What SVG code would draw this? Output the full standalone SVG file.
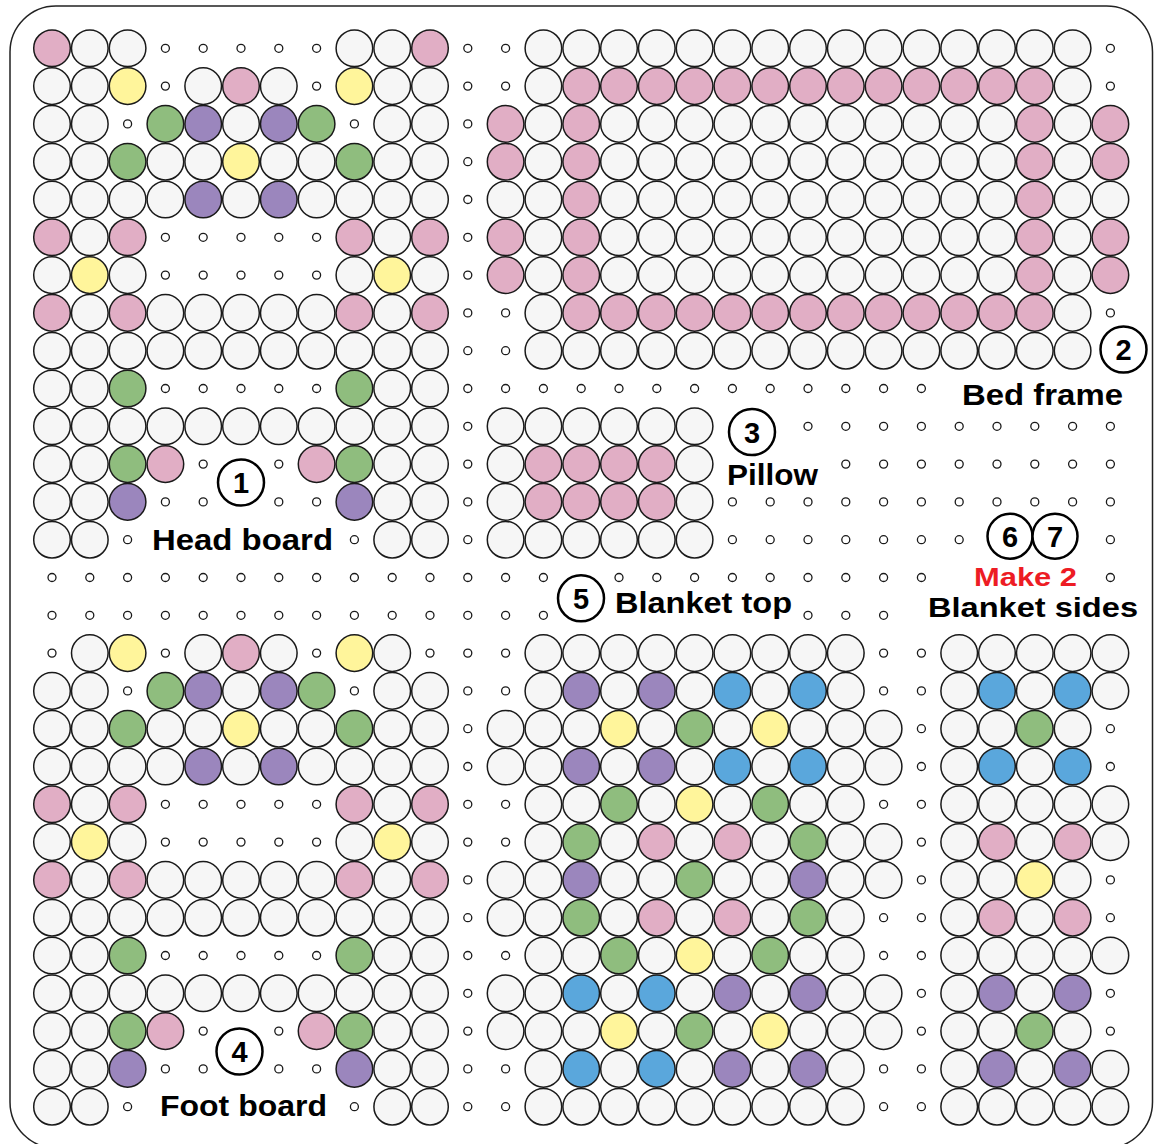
<svg xmlns="http://www.w3.org/2000/svg" xmlns:xlink="http://www.w3.org/1999/xlink" width="1162" height="1144" viewBox="0 0 1162 1144">
<style>
.bd{stroke:#1a1a1a;stroke-width:1.5}
.pg{fill:#fff;stroke:#1a1a1a;stroke-width:1.3}
.lc{fill:#fff;stroke:#000;stroke-width:2.5}
.num{font-family:"Liberation Sans",Arial,sans-serif;font-weight:bold;font-size:29px;fill:#000;text-anchor:middle}
.lbl{font-family:"Liberation Sans",Arial,sans-serif;font-weight:bold;font-size:29px;fill:#000}
.red{font-family:"Liberation Sans",Arial,sans-serif;font-weight:bold;font-size:26px;fill:#ed1c24}
</style>
<defs>
<circle id="w" class="bd" r="18.3" fill="#f6f6f6"/>
<circle id="p" class="bd" r="18.3" fill="#e1aec5"/>
<circle id="y" class="bd" r="18.3" fill="#fff59b"/>
<circle id="g" class="bd" r="18.3" fill="#8fbd7e"/>
<circle id="u" class="bd" r="18.3" fill="#9b86bd"/>
<circle id="b" class="bd" r="18.3" fill="#5aa7dc"/>
<circle id="o" class="pg" r="4"/>
</defs>
<rect x="0" y="0" width="1162" height="1144" fill="#fff"/>
<rect x="10" y="6" width="1142.5" height="1142" rx="46" fill="none" stroke="#222" stroke-width="1.5"/>

<g id="pegs">
<g transform="translate(0 48.3)"><use href="#o" x="165.4"/><use href="#o" x="203.2"/><use href="#o" x="241"/><use href="#o" x="278.8"/><use href="#o" x="316.6"/><use href="#o" x="467.8"/><use href="#o" x="505.6"/><use href="#o" x="1110.4"/></g>
<g transform="translate(0 86.1)"><use href="#o" x="165.4"/><use href="#o" x="316.6"/><use href="#o" x="467.8"/><use href="#o" x="505.6"/><use href="#o" x="1110.4"/></g>
<g transform="translate(0 123.9)"><use href="#o" x="127.6"/><use href="#o" x="354.4"/><use href="#o" x="467.8"/></g>
<g transform="translate(0 161.7)"><use href="#o" x="467.8"/></g>
<g transform="translate(0 199.5)"><use href="#o" x="467.8"/></g>
<g transform="translate(0 237.3)"><use href="#o" x="165.4"/><use href="#o" x="203.2"/><use href="#o" x="241"/><use href="#o" x="278.8"/><use href="#o" x="316.6"/><use href="#o" x="467.8"/></g>
<g transform="translate(0 275.1)"><use href="#o" x="165.4"/><use href="#o" x="203.2"/><use href="#o" x="241"/><use href="#o" x="278.8"/><use href="#o" x="316.6"/><use href="#o" x="467.8"/></g>
<g transform="translate(0 312.9)"><use href="#o" x="467.8"/><use href="#o" x="505.6"/><use href="#o" x="1110.4"/></g>
<g transform="translate(0 350.7)"><use href="#o" x="467.8"/><use href="#o" x="505.6"/></g>
<g transform="translate(0 388.5)"><use href="#o" x="165.4"/><use href="#o" x="203.2"/><use href="#o" x="241"/><use href="#o" x="278.8"/><use href="#o" x="316.6"/><use href="#o" x="467.8"/><use href="#o" x="505.6"/><use href="#o" x="543.4"/><use href="#o" x="581.2"/><use href="#o" x="619"/><use href="#o" x="656.8"/><use href="#o" x="694.6"/><use href="#o" x="732.4"/><use href="#o" x="770.2"/><use href="#o" x="808"/><use href="#o" x="845.8"/><use href="#o" x="883.6"/><use href="#o" x="921.4"/></g>
<g transform="translate(0 426.3)"><use href="#o" x="467.8"/><use href="#o" x="808"/><use href="#o" x="845.8"/><use href="#o" x="883.6"/><use href="#o" x="921.4"/><use href="#o" x="959.2"/><use href="#o" x="997"/><use href="#o" x="1034.8"/><use href="#o" x="1072.6"/><use href="#o" x="1110.4"/></g>
<g transform="translate(0 464.1)"><use href="#o" x="203.2"/><use href="#o" x="278.8"/><use href="#o" x="467.8"/><use href="#o" x="845.8"/><use href="#o" x="883.6"/><use href="#o" x="921.4"/><use href="#o" x="959.2"/><use href="#o" x="997"/><use href="#o" x="1034.8"/><use href="#o" x="1072.6"/><use href="#o" x="1110.4"/></g>
<g transform="translate(0 501.9)"><use href="#o" x="165.4"/><use href="#o" x="203.2"/><use href="#o" x="278.8"/><use href="#o" x="316.6"/><use href="#o" x="467.8"/><use href="#o" x="732.4"/><use href="#o" x="770.2"/><use href="#o" x="808"/><use href="#o" x="845.8"/><use href="#o" x="883.6"/><use href="#o" x="921.4"/><use href="#o" x="959.2"/><use href="#o" x="997"/><use href="#o" x="1034.8"/><use href="#o" x="1072.6"/><use href="#o" x="1110.4"/></g>
<g transform="translate(0 539.7)"><use href="#o" x="127.6"/><use href="#o" x="354.4"/><use href="#o" x="467.8"/><use href="#o" x="732.4"/><use href="#o" x="770.2"/><use href="#o" x="808"/><use href="#o" x="845.8"/><use href="#o" x="883.6"/><use href="#o" x="921.4"/><use href="#o" x="959.2"/><use href="#o" x="1110.4"/></g>
<g transform="translate(0 577.5)"><use href="#o" x="52"/><use href="#o" x="89.8"/><use href="#o" x="127.6"/><use href="#o" x="165.4"/><use href="#o" x="203.2"/><use href="#o" x="241"/><use href="#o" x="278.8"/><use href="#o" x="316.6"/><use href="#o" x="354.4"/><use href="#o" x="392.2"/><use href="#o" x="430"/><use href="#o" x="467.8"/><use href="#o" x="505.6"/><use href="#o" x="543.4"/><use href="#o" x="619"/><use href="#o" x="656.8"/><use href="#o" x="694.6"/><use href="#o" x="732.4"/><use href="#o" x="770.2"/><use href="#o" x="808"/><use href="#o" x="845.8"/><use href="#o" x="883.6"/><use href="#o" x="921.4"/><use href="#o" x="1110.4"/></g>
<g transform="translate(0 615.3)"><use href="#o" x="52"/><use href="#o" x="89.8"/><use href="#o" x="127.6"/><use href="#o" x="165.4"/><use href="#o" x="203.2"/><use href="#o" x="241"/><use href="#o" x="278.8"/><use href="#o" x="316.6"/><use href="#o" x="354.4"/><use href="#o" x="392.2"/><use href="#o" x="430"/><use href="#o" x="467.8"/><use href="#o" x="505.6"/><use href="#o" x="543.4"/><use href="#o" x="808"/><use href="#o" x="845.8"/><use href="#o" x="883.6"/></g>
<g transform="translate(0 653.1)"><use href="#o" x="52"/><use href="#o" x="165.4"/><use href="#o" x="316.6"/><use href="#o" x="430"/><use href="#o" x="467.8"/><use href="#o" x="505.6"/><use href="#o" x="883.6"/><use href="#o" x="921.4"/></g>
<g transform="translate(0 690.9)"><use href="#o" x="127.6"/><use href="#o" x="354.4"/><use href="#o" x="467.8"/><use href="#o" x="505.6"/><use href="#o" x="883.6"/><use href="#o" x="921.4"/></g>
<g transform="translate(0 728.7)"><use href="#o" x="467.8"/><use href="#o" x="921.4"/><use href="#o" x="1110.4"/></g>
<g transform="translate(0 766.5)"><use href="#o" x="467.8"/><use href="#o" x="921.4"/><use href="#o" x="1110.4"/></g>
<g transform="translate(0 804.3)"><use href="#o" x="165.4"/><use href="#o" x="203.2"/><use href="#o" x="241"/><use href="#o" x="278.8"/><use href="#o" x="316.6"/><use href="#o" x="467.8"/><use href="#o" x="505.6"/><use href="#o" x="883.6"/><use href="#o" x="921.4"/></g>
<g transform="translate(0 842.1)"><use href="#o" x="165.4"/><use href="#o" x="203.2"/><use href="#o" x="241"/><use href="#o" x="278.8"/><use href="#o" x="316.6"/><use href="#o" x="467.8"/><use href="#o" x="505.6"/><use href="#o" x="921.4"/></g>
<g transform="translate(0 879.9)"><use href="#o" x="467.8"/><use href="#o" x="921.4"/><use href="#o" x="1110.4"/></g>
<g transform="translate(0 917.7)"><use href="#o" x="467.8"/><use href="#o" x="883.6"/><use href="#o" x="921.4"/><use href="#o" x="1110.4"/></g>
<g transform="translate(0 955.5)"><use href="#o" x="165.4"/><use href="#o" x="203.2"/><use href="#o" x="241"/><use href="#o" x="278.8"/><use href="#o" x="316.6"/><use href="#o" x="467.8"/><use href="#o" x="505.6"/><use href="#o" x="883.6"/><use href="#o" x="921.4"/></g>
<g transform="translate(0 993.3)"><use href="#o" x="467.8"/><use href="#o" x="921.4"/><use href="#o" x="1110.4"/></g>
<g transform="translate(0 1031.1)"><use href="#o" x="203.2"/><use href="#o" x="278.8"/><use href="#o" x="467.8"/><use href="#o" x="921.4"/><use href="#o" x="1110.4"/></g>
<g transform="translate(0 1068.9)"><use href="#o" x="165.4"/><use href="#o" x="203.2"/><use href="#o" x="278.8"/><use href="#o" x="316.6"/><use href="#o" x="467.8"/><use href="#o" x="505.6"/><use href="#o" x="883.6"/><use href="#o" x="921.4"/></g>
<g transform="translate(0 1106.7)"><use href="#o" x="127.6"/><use href="#o" x="354.4"/><use href="#o" x="467.8"/><use href="#o" x="505.6"/><use href="#o" x="883.6"/><use href="#o" x="921.4"/></g>
</g>

<g id="head-board">
<g transform="translate(0 48.3)"><use href="#p" x="52"/><use href="#w" x="89.8"/><use href="#w" x="127.6"/><use href="#w" x="354.4"/><use href="#w" x="392.2"/><use href="#p" x="430"/></g>
<g transform="translate(0 86.1)"><use href="#w" x="52"/><use href="#w" x="89.8"/><use href="#y" x="127.6"/><use href="#w" x="203.2"/><use href="#p" x="241"/><use href="#w" x="278.8"/><use href="#y" x="354.4"/><use href="#w" x="392.2"/><use href="#w" x="430"/></g>
<g transform="translate(0 123.9)"><use href="#w" x="52"/><use href="#w" x="89.8"/><use href="#g" x="165.4"/><use href="#u" x="203.2"/><use href="#w" x="241"/><use href="#u" x="278.8"/><use href="#g" x="316.6"/><use href="#w" x="392.2"/><use href="#w" x="430"/></g>
<g transform="translate(0 161.7)"><use href="#w" x="52"/><use href="#w" x="89.8"/><use href="#g" x="127.6"/><use href="#w" x="165.4"/><use href="#w" x="203.2"/><use href="#y" x="241"/><use href="#w" x="278.8"/><use href="#w" x="316.6"/><use href="#g" x="354.4"/><use href="#w" x="392.2"/><use href="#w" x="430"/></g>
<g transform="translate(0 199.5)"><use href="#w" x="52"/><use href="#w" x="89.8"/><use href="#w" x="127.6"/><use href="#w" x="165.4"/><use href="#u" x="203.2"/><use href="#w" x="241"/><use href="#u" x="278.8"/><use href="#w" x="316.6"/><use href="#w" x="354.4"/><use href="#w" x="392.2"/><use href="#w" x="430"/></g>
<g transform="translate(0 237.3)"><use href="#p" x="52"/><use href="#w" x="89.8"/><use href="#p" x="127.6"/><use href="#p" x="354.4"/><use href="#w" x="392.2"/><use href="#p" x="430"/></g>
<g transform="translate(0 275.1)"><use href="#w" x="52"/><use href="#y" x="89.8"/><use href="#w" x="127.6"/><use href="#w" x="354.4"/><use href="#y" x="392.2"/><use href="#w" x="430"/></g>
<g transform="translate(0 312.9)"><use href="#p" x="52"/><use href="#w" x="89.8"/><use href="#p" x="127.6"/><use href="#w" x="165.4"/><use href="#w" x="203.2"/><use href="#w" x="241"/><use href="#w" x="278.8"/><use href="#w" x="316.6"/><use href="#p" x="354.4"/><use href="#w" x="392.2"/><use href="#p" x="430"/></g>
<g transform="translate(0 350.7)"><use href="#w" x="52"/><use href="#w" x="89.8"/><use href="#w" x="127.6"/><use href="#w" x="165.4"/><use href="#w" x="203.2"/><use href="#w" x="241"/><use href="#w" x="278.8"/><use href="#w" x="316.6"/><use href="#w" x="354.4"/><use href="#w" x="392.2"/><use href="#w" x="430"/></g>
<g transform="translate(0 388.5)"><use href="#w" x="52"/><use href="#w" x="89.8"/><use href="#g" x="127.6"/><use href="#g" x="354.4"/><use href="#w" x="392.2"/><use href="#w" x="430"/></g>
<g transform="translate(0 426.3)"><use href="#w" x="52"/><use href="#w" x="89.8"/><use href="#w" x="127.6"/><use href="#w" x="165.4"/><use href="#w" x="203.2"/><use href="#w" x="241"/><use href="#w" x="278.8"/><use href="#w" x="316.6"/><use href="#w" x="354.4"/><use href="#w" x="392.2"/><use href="#w" x="430"/></g>
<g transform="translate(0 464.1)"><use href="#w" x="52"/><use href="#w" x="89.8"/><use href="#g" x="127.6"/><use href="#p" x="165.4"/><use href="#p" x="316.6"/><use href="#g" x="354.4"/><use href="#w" x="392.2"/><use href="#w" x="430"/></g>
<g transform="translate(0 501.9)"><use href="#w" x="52"/><use href="#w" x="89.8"/><use href="#u" x="127.6"/><use href="#u" x="354.4"/><use href="#w" x="392.2"/><use href="#w" x="430"/></g>
<g transform="translate(0 539.7)"><use href="#w" x="52"/><use href="#w" x="89.8"/><use href="#w" x="392.2"/><use href="#w" x="430"/></g>
<circle class="lc" cx="241" cy="482.5" r="23"/>
<text class="num" x="241" y="493">1</text>
<text class="lbl" x="152" y="550" textLength="181" lengthAdjust="spacingAndGlyphs">Head board</text>
</g>

<g id="bed-frame">
<g transform="translate(0 48.3)"><use href="#w" x="543.4"/><use href="#w" x="581.2"/><use href="#w" x="619"/><use href="#w" x="656.8"/><use href="#w" x="694.6"/><use href="#w" x="732.4"/><use href="#w" x="770.2"/><use href="#w" x="808"/><use href="#w" x="845.8"/><use href="#w" x="883.6"/><use href="#w" x="921.4"/><use href="#w" x="959.2"/><use href="#w" x="997"/><use href="#w" x="1034.8"/><use href="#w" x="1072.6"/></g>
<g transform="translate(0 86.1)"><use href="#w" x="543.4"/><use href="#p" x="581.2"/><use href="#p" x="619"/><use href="#p" x="656.8"/><use href="#p" x="694.6"/><use href="#p" x="732.4"/><use href="#p" x="770.2"/><use href="#p" x="808"/><use href="#p" x="845.8"/><use href="#p" x="883.6"/><use href="#p" x="921.4"/><use href="#p" x="959.2"/><use href="#p" x="997"/><use href="#p" x="1034.8"/><use href="#w" x="1072.6"/></g>
<g transform="translate(0 123.9)"><use href="#p" x="505.6"/><use href="#w" x="543.4"/><use href="#p" x="581.2"/><use href="#w" x="619"/><use href="#w" x="656.8"/><use href="#w" x="694.6"/><use href="#w" x="732.4"/><use href="#w" x="770.2"/><use href="#w" x="808"/><use href="#w" x="845.8"/><use href="#w" x="883.6"/><use href="#w" x="921.4"/><use href="#w" x="959.2"/><use href="#w" x="997"/><use href="#p" x="1034.8"/><use href="#w" x="1072.6"/><use href="#p" x="1110.4"/></g>
<g transform="translate(0 161.7)"><use href="#p" x="505.6"/><use href="#w" x="543.4"/><use href="#p" x="581.2"/><use href="#w" x="619"/><use href="#w" x="656.8"/><use href="#w" x="694.6"/><use href="#w" x="732.4"/><use href="#w" x="770.2"/><use href="#w" x="808"/><use href="#w" x="845.8"/><use href="#w" x="883.6"/><use href="#w" x="921.4"/><use href="#w" x="959.2"/><use href="#w" x="997"/><use href="#p" x="1034.8"/><use href="#w" x="1072.6"/><use href="#p" x="1110.4"/></g>
<g transform="translate(0 199.5)"><use href="#w" x="505.6"/><use href="#w" x="543.4"/><use href="#p" x="581.2"/><use href="#w" x="619"/><use href="#w" x="656.8"/><use href="#w" x="694.6"/><use href="#w" x="732.4"/><use href="#w" x="770.2"/><use href="#w" x="808"/><use href="#w" x="845.8"/><use href="#w" x="883.6"/><use href="#w" x="921.4"/><use href="#w" x="959.2"/><use href="#w" x="997"/><use href="#p" x="1034.8"/><use href="#w" x="1072.6"/><use href="#w" x="1110.4"/></g>
<g transform="translate(0 237.3)"><use href="#p" x="505.6"/><use href="#w" x="543.4"/><use href="#p" x="581.2"/><use href="#w" x="619"/><use href="#w" x="656.8"/><use href="#w" x="694.6"/><use href="#w" x="732.4"/><use href="#w" x="770.2"/><use href="#w" x="808"/><use href="#w" x="845.8"/><use href="#w" x="883.6"/><use href="#w" x="921.4"/><use href="#w" x="959.2"/><use href="#w" x="997"/><use href="#p" x="1034.8"/><use href="#w" x="1072.6"/><use href="#p" x="1110.4"/></g>
<g transform="translate(0 275.1)"><use href="#p" x="505.6"/><use href="#w" x="543.4"/><use href="#p" x="581.2"/><use href="#w" x="619"/><use href="#w" x="656.8"/><use href="#w" x="694.6"/><use href="#w" x="732.4"/><use href="#w" x="770.2"/><use href="#w" x="808"/><use href="#w" x="845.8"/><use href="#w" x="883.6"/><use href="#w" x="921.4"/><use href="#w" x="959.2"/><use href="#w" x="997"/><use href="#p" x="1034.8"/><use href="#w" x="1072.6"/><use href="#p" x="1110.4"/></g>
<g transform="translate(0 312.9)"><use href="#w" x="543.4"/><use href="#p" x="581.2"/><use href="#p" x="619"/><use href="#p" x="656.8"/><use href="#p" x="694.6"/><use href="#p" x="732.4"/><use href="#p" x="770.2"/><use href="#p" x="808"/><use href="#p" x="845.8"/><use href="#p" x="883.6"/><use href="#p" x="921.4"/><use href="#p" x="959.2"/><use href="#p" x="997"/><use href="#p" x="1034.8"/><use href="#w" x="1072.6"/></g>
<g transform="translate(0 350.7)"><use href="#w" x="543.4"/><use href="#w" x="581.2"/><use href="#w" x="619"/><use href="#w" x="656.8"/><use href="#w" x="694.6"/><use href="#w" x="732.4"/><use href="#w" x="770.2"/><use href="#w" x="808"/><use href="#w" x="845.8"/><use href="#w" x="883.6"/><use href="#w" x="921.4"/><use href="#w" x="959.2"/><use href="#w" x="997"/><use href="#w" x="1034.8"/><use href="#w" x="1072.6"/></g>
<circle class="lc" cx="1123.5" cy="349.5" r="23"/>
<text class="num" x="1123.5" y="360">2</text>
<text class="lbl" x="962" y="405" textLength="161" lengthAdjust="spacingAndGlyphs">Bed frame</text>
</g>

<g id="pillow">
<g transform="translate(0 426.3)"><use href="#w" x="505.6"/><use href="#w" x="543.4"/><use href="#w" x="581.2"/><use href="#w" x="619"/><use href="#w" x="656.8"/><use href="#w" x="694.6"/></g>
<g transform="translate(0 464.1)"><use href="#w" x="505.6"/><use href="#p" x="543.4"/><use href="#p" x="581.2"/><use href="#p" x="619"/><use href="#p" x="656.8"/><use href="#w" x="694.6"/></g>
<g transform="translate(0 501.9)"><use href="#w" x="505.6"/><use href="#p" x="543.4"/><use href="#p" x="581.2"/><use href="#p" x="619"/><use href="#p" x="656.8"/><use href="#w" x="694.6"/></g>
<g transform="translate(0 539.7)"><use href="#w" x="505.6"/><use href="#w" x="543.4"/><use href="#w" x="581.2"/><use href="#w" x="619"/><use href="#w" x="656.8"/><use href="#w" x="694.6"/></g>
<circle class="lc" cx="752" cy="432" r="23"/>
<text class="num" x="752" y="442.5">3</text>
<text class="lbl" x="727" y="485" textLength="91" lengthAdjust="spacingAndGlyphs">Pillow</text>
</g>

<g id="foot-board">
<g transform="translate(0 653.1)"><use href="#w" x="89.8"/><use href="#y" x="127.6"/><use href="#w" x="203.2"/><use href="#p" x="241"/><use href="#w" x="278.8"/><use href="#y" x="354.4"/><use href="#w" x="392.2"/></g>
<g transform="translate(0 690.9)"><use href="#w" x="52"/><use href="#w" x="89.8"/><use href="#g" x="165.4"/><use href="#u" x="203.2"/><use href="#w" x="241"/><use href="#u" x="278.8"/><use href="#g" x="316.6"/><use href="#w" x="392.2"/><use href="#w" x="430"/></g>
<g transform="translate(0 728.7)"><use href="#w" x="52"/><use href="#w" x="89.8"/><use href="#g" x="127.6"/><use href="#w" x="165.4"/><use href="#w" x="203.2"/><use href="#y" x="241"/><use href="#w" x="278.8"/><use href="#w" x="316.6"/><use href="#g" x="354.4"/><use href="#w" x="392.2"/><use href="#w" x="430"/></g>
<g transform="translate(0 766.5)"><use href="#w" x="52"/><use href="#w" x="89.8"/><use href="#w" x="127.6"/><use href="#w" x="165.4"/><use href="#u" x="203.2"/><use href="#w" x="241"/><use href="#u" x="278.8"/><use href="#w" x="316.6"/><use href="#w" x="354.4"/><use href="#w" x="392.2"/><use href="#w" x="430"/></g>
<g transform="translate(0 804.3)"><use href="#p" x="52"/><use href="#w" x="89.8"/><use href="#p" x="127.6"/><use href="#p" x="354.4"/><use href="#w" x="392.2"/><use href="#p" x="430"/></g>
<g transform="translate(0 842.1)"><use href="#w" x="52"/><use href="#y" x="89.8"/><use href="#w" x="127.6"/><use href="#w" x="354.4"/><use href="#y" x="392.2"/><use href="#w" x="430"/></g>
<g transform="translate(0 879.9)"><use href="#p" x="52"/><use href="#w" x="89.8"/><use href="#p" x="127.6"/><use href="#w" x="165.4"/><use href="#w" x="203.2"/><use href="#w" x="241"/><use href="#w" x="278.8"/><use href="#w" x="316.6"/><use href="#p" x="354.4"/><use href="#w" x="392.2"/><use href="#p" x="430"/></g>
<g transform="translate(0 917.7)"><use href="#w" x="52"/><use href="#w" x="89.8"/><use href="#w" x="127.6"/><use href="#w" x="165.4"/><use href="#w" x="203.2"/><use href="#w" x="241"/><use href="#w" x="278.8"/><use href="#w" x="316.6"/><use href="#w" x="354.4"/><use href="#w" x="392.2"/><use href="#w" x="430"/></g>
<g transform="translate(0 955.5)"><use href="#w" x="52"/><use href="#w" x="89.8"/><use href="#g" x="127.6"/><use href="#g" x="354.4"/><use href="#w" x="392.2"/><use href="#w" x="430"/></g>
<g transform="translate(0 993.3)"><use href="#w" x="52"/><use href="#w" x="89.8"/><use href="#w" x="127.6"/><use href="#w" x="165.4"/><use href="#w" x="203.2"/><use href="#w" x="241"/><use href="#w" x="278.8"/><use href="#w" x="316.6"/><use href="#w" x="354.4"/><use href="#w" x="392.2"/><use href="#w" x="430"/></g>
<g transform="translate(0 1031.1)"><use href="#w" x="52"/><use href="#w" x="89.8"/><use href="#g" x="127.6"/><use href="#p" x="165.4"/><use href="#p" x="316.6"/><use href="#g" x="354.4"/><use href="#w" x="392.2"/><use href="#w" x="430"/></g>
<g transform="translate(0 1068.9)"><use href="#w" x="52"/><use href="#w" x="89.8"/><use href="#u" x="127.6"/><use href="#u" x="354.4"/><use href="#w" x="392.2"/><use href="#w" x="430"/></g>
<g transform="translate(0 1106.7)"><use href="#w" x="52"/><use href="#w" x="89.8"/><use href="#w" x="392.2"/><use href="#w" x="430"/></g>
<circle class="lc" cx="239.5" cy="1051.5" r="23"/>
<text class="num" x="239.5" y="1062">4</text>
<text class="lbl" x="160" y="1116" textLength="167" lengthAdjust="spacingAndGlyphs">Foot board</text>
</g>

<g id="blanket-top">
<g transform="translate(0 653.1)"><use href="#w" x="543.4"/><use href="#w" x="581.2"/><use href="#w" x="619"/><use href="#w" x="656.8"/><use href="#w" x="694.6"/><use href="#w" x="732.4"/><use href="#w" x="770.2"/><use href="#w" x="808"/><use href="#w" x="845.8"/></g>
<g transform="translate(0 690.9)"><use href="#w" x="543.4"/><use href="#u" x="581.2"/><use href="#w" x="619"/><use href="#u" x="656.8"/><use href="#w" x="694.6"/><use href="#b" x="732.4"/><use href="#w" x="770.2"/><use href="#b" x="808"/><use href="#w" x="845.8"/></g>
<g transform="translate(0 728.7)"><use href="#w" x="505.6"/><use href="#w" x="543.4"/><use href="#w" x="581.2"/><use href="#y" x="619"/><use href="#w" x="656.8"/><use href="#g" x="694.6"/><use href="#w" x="732.4"/><use href="#y" x="770.2"/><use href="#w" x="808"/><use href="#w" x="845.8"/><use href="#w" x="883.6"/></g>
<g transform="translate(0 766.5)"><use href="#w" x="505.6"/><use href="#w" x="543.4"/><use href="#u" x="581.2"/><use href="#w" x="619"/><use href="#u" x="656.8"/><use href="#w" x="694.6"/><use href="#b" x="732.4"/><use href="#w" x="770.2"/><use href="#b" x="808"/><use href="#w" x="845.8"/><use href="#w" x="883.6"/></g>
<g transform="translate(0 804.3)"><use href="#w" x="543.4"/><use href="#w" x="581.2"/><use href="#g" x="619"/><use href="#w" x="656.8"/><use href="#y" x="694.6"/><use href="#w" x="732.4"/><use href="#g" x="770.2"/><use href="#w" x="808"/><use href="#w" x="845.8"/></g>
<g transform="translate(0 842.1)"><use href="#w" x="543.4"/><use href="#g" x="581.2"/><use href="#w" x="619"/><use href="#p" x="656.8"/><use href="#w" x="694.6"/><use href="#p" x="732.4"/><use href="#w" x="770.2"/><use href="#g" x="808"/><use href="#w" x="845.8"/><use href="#w" x="883.6"/></g>
<g transform="translate(0 879.9)"><use href="#w" x="505.6"/><use href="#w" x="543.4"/><use href="#u" x="581.2"/><use href="#w" x="619"/><use href="#w" x="656.8"/><use href="#g" x="694.6"/><use href="#w" x="732.4"/><use href="#w" x="770.2"/><use href="#u" x="808"/><use href="#w" x="845.8"/><use href="#w" x="883.6"/></g>
<g transform="translate(0 917.7)"><use href="#w" x="505.6"/><use href="#w" x="543.4"/><use href="#g" x="581.2"/><use href="#w" x="619"/><use href="#p" x="656.8"/><use href="#w" x="694.6"/><use href="#p" x="732.4"/><use href="#w" x="770.2"/><use href="#g" x="808"/><use href="#w" x="845.8"/></g>
<g transform="translate(0 955.5)"><use href="#w" x="543.4"/><use href="#w" x="581.2"/><use href="#g" x="619"/><use href="#w" x="656.8"/><use href="#y" x="694.6"/><use href="#w" x="732.4"/><use href="#g" x="770.2"/><use href="#w" x="808"/><use href="#w" x="845.8"/></g>
<g transform="translate(0 993.3)"><use href="#w" x="505.6"/><use href="#w" x="543.4"/><use href="#b" x="581.2"/><use href="#w" x="619"/><use href="#b" x="656.8"/><use href="#w" x="694.6"/><use href="#u" x="732.4"/><use href="#w" x="770.2"/><use href="#u" x="808"/><use href="#w" x="845.8"/><use href="#w" x="883.6"/></g>
<g transform="translate(0 1031.1)"><use href="#w" x="505.6"/><use href="#w" x="543.4"/><use href="#w" x="581.2"/><use href="#y" x="619"/><use href="#w" x="656.8"/><use href="#g" x="694.6"/><use href="#w" x="732.4"/><use href="#y" x="770.2"/><use href="#w" x="808"/><use href="#w" x="845.8"/><use href="#w" x="883.6"/></g>
<g transform="translate(0 1068.9)"><use href="#w" x="543.4"/><use href="#b" x="581.2"/><use href="#w" x="619"/><use href="#b" x="656.8"/><use href="#w" x="694.6"/><use href="#u" x="732.4"/><use href="#w" x="770.2"/><use href="#u" x="808"/><use href="#w" x="845.8"/></g>
<g transform="translate(0 1106.7)"><use href="#w" x="543.4"/><use href="#w" x="581.2"/><use href="#w" x="619"/><use href="#w" x="656.8"/><use href="#w" x="694.6"/><use href="#w" x="732.4"/><use href="#w" x="770.2"/><use href="#w" x="808"/><use href="#w" x="845.8"/></g>
<circle class="lc" cx="581" cy="598.3" r="23"/>
<text class="num" x="581" y="608.8">5</text>
<text class="lbl" x="615" y="613" textLength="177" lengthAdjust="spacingAndGlyphs">Blanket top</text>
</g>

<g id="blanket-sides">
<g transform="translate(0 653.1)"><use href="#w" x="959.2"/><use href="#w" x="997"/><use href="#w" x="1034.8"/><use href="#w" x="1072.6"/><use href="#w" x="1110.4"/></g>
<g transform="translate(0 690.9)"><use href="#w" x="959.2"/><use href="#b" x="997"/><use href="#w" x="1034.8"/><use href="#b" x="1072.6"/><use href="#w" x="1110.4"/></g>
<g transform="translate(0 728.7)"><use href="#w" x="959.2"/><use href="#w" x="997"/><use href="#g" x="1034.8"/><use href="#w" x="1072.6"/></g>
<g transform="translate(0 766.5)"><use href="#w" x="959.2"/><use href="#b" x="997"/><use href="#w" x="1034.8"/><use href="#b" x="1072.6"/></g>
<g transform="translate(0 804.3)"><use href="#w" x="959.2"/><use href="#w" x="997"/><use href="#w" x="1034.8"/><use href="#w" x="1072.6"/><use href="#w" x="1110.4"/></g>
<g transform="translate(0 842.1)"><use href="#w" x="959.2"/><use href="#p" x="997"/><use href="#w" x="1034.8"/><use href="#p" x="1072.6"/><use href="#w" x="1110.4"/></g>
<g transform="translate(0 879.9)"><use href="#w" x="959.2"/><use href="#w" x="997"/><use href="#y" x="1034.8"/><use href="#w" x="1072.6"/></g>
<g transform="translate(0 917.7)"><use href="#w" x="959.2"/><use href="#p" x="997"/><use href="#w" x="1034.8"/><use href="#p" x="1072.6"/></g>
<g transform="translate(0 955.5)"><use href="#w" x="959.2"/><use href="#w" x="997"/><use href="#w" x="1034.8"/><use href="#w" x="1072.6"/><use href="#w" x="1110.4"/></g>
<g transform="translate(0 993.3)"><use href="#w" x="959.2"/><use href="#u" x="997"/><use href="#w" x="1034.8"/><use href="#u" x="1072.6"/></g>
<g transform="translate(0 1031.1)"><use href="#w" x="959.2"/><use href="#w" x="997"/><use href="#g" x="1034.8"/><use href="#w" x="1072.6"/></g>
<g transform="translate(0 1068.9)"><use href="#w" x="959.2"/><use href="#u" x="997"/><use href="#w" x="1034.8"/><use href="#u" x="1072.6"/><use href="#w" x="1110.4"/></g>
<g transform="translate(0 1106.7)"><use href="#w" x="959.2"/><use href="#w" x="997"/><use href="#w" x="1034.8"/><use href="#w" x="1072.6"/><use href="#w" x="1110.4"/></g>
<circle class="lc" cx="1010" cy="536.3" r="22.5"/>
<circle class="lc" cx="1055" cy="536.3" r="22.5"/>
<text class="num" x="1010" y="546.8">6</text>
<text class="num" x="1055" y="546.8">7</text>
<text class="red" x="974" y="585.5" textLength="103" lengthAdjust="spacingAndGlyphs">Make 2</text>
<text class="lbl" x="928" y="616.5" textLength="210" lengthAdjust="spacingAndGlyphs" style="font-size:28px">Blanket sides</text>
</g>

<g id="connectors"/>
</svg>
